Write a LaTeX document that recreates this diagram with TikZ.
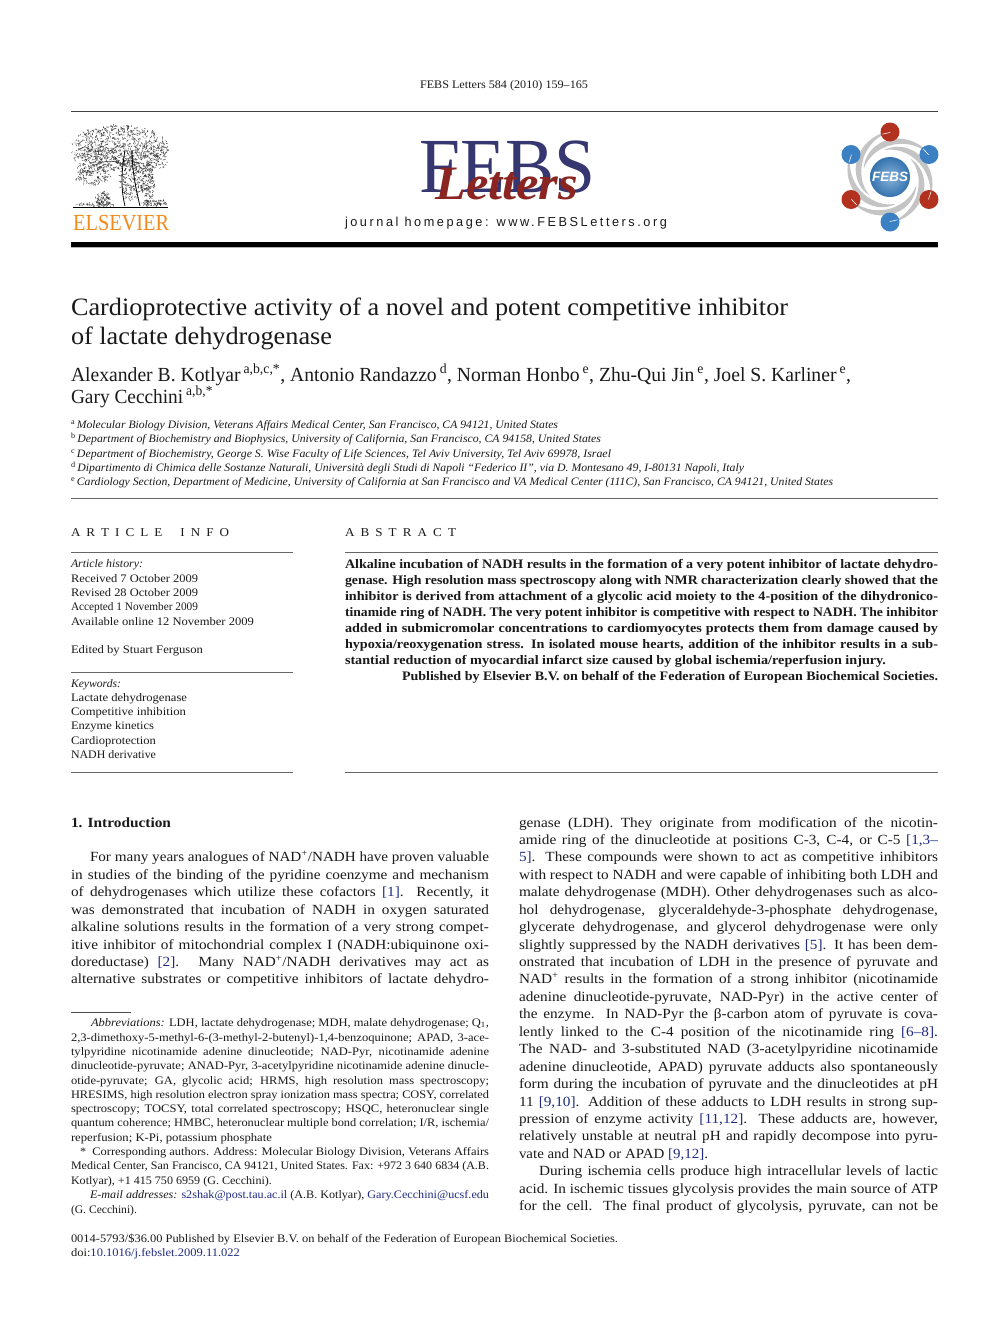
\documentclass[tikz,border=0pt]{standalone}
\usepackage{fontspec}
\usepackage{graphicx}
\setmainfont[FakeStretch=1.09]{Liberation Serif}
\newfontfamily\plainserif{Liberation Serif}
\newfontfamily\sansls[LetterSpace=20]{Liberation Sans}
\newfontfamily\sansb{Liberation Sans}
\definecolor{txtc}{HTML}{1A1A1A}
\definecolor{linkc}{HTML}{1F2A80}
\definecolor{febsblue}{HTML}{363670}
\definecolor{febsred}{HTML}{8A2522}
\definecolor{elsorange}{HTML}{F28A1C}
\definecolor{ballred}{HTML}{B3321F}
\definecolor{ballblue}{HTML}{3A80C2}
\definecolor{swirl}{HTML}{C4C4C4}
\newsavebox\fb
\newcounter{tn}
\def\curfont{}
\newcommand{\lk}[1]{\textcolor{linkc}{#1}}
\newcommand{\sups}[1]{\textsuperscript{#1}}
% justified: stretch the spaces, or squeeze if too long
\newcommand{\fitj}[2]{\sbox\fb{\curfont #2}\ifdim\wd\fb>#1pt\relax\pgfmathsetmacro\rr{#1/\the\wd\fb}\scalebox{\rr}[1]{\usebox\fb}\else\makebox[#1pt][s]{\curfont #2}\fi}
% always scale horizontally
\newcommand{\fits}[2]{\sbox\fb{\curfont #2}\pgfmathsetmacro\rr{#1/\the\wd\fb}\scalebox{\rr}[1]{\usebox\fb}}
\tikzset{
  x=1pt,y=1pt,
  txt/.style={anchor=base west,inner sep=0pt,outer sep=0pt,text=txtc},
  rulethin/.style={draw=black!60,line width=0.9pt},
  rulehead/.style={draw=black!75,line width=1pt},
  swirlband/.style={fill=swirl,draw=none},
  tick/.style={draw=white!85!swirl,line width=0.6pt,line cap=round},
  engr/.style={draw=black!85,line width=0.35pt}
}
\newcommand{\tline}[4]{\stepcounter{tn}\node[txt] (t\thetn) at (#1,-#2) {\fitj{#3}{#4}};}
\newcommand{\sline}[4]{\stepcounter{tn}\node[txt] (t\thetn) at (#1,-#2) {\fits{#3}{#4}};}
\newcommand{\bodyl}[4]{\tline{#1}{\fpeval{827+17.44*#2}}{#3}{#4}}
\newcommand{\scrib}[5]{\foreach \i in {1,...,#5}{%
  \pgfmathsetmacro\ta{360*rnd}\pgfmathsetmacro\ra{sqrt(rnd)}%
  \pgfmathsetmacro\px{#1+#3*\ra*cos(\ta)}\pgfmathsetmacro\py{-(#2)+#4*\ra*sin(\ta)}%
  \pgfmathsetmacro\da{360*rnd}%
  \draw[engr] (\px,\py) -- ++(\da:1.8);}}
\begin{document}
\begin{tikzpicture}
\useasboundingbox (0,0) rectangle (992,-1323);
\fill[white] (0,0) rectangle (992,-1323);
% header
\def\curfont{\fontsize{11.5}{13}\selectfont}
\sline{420}{88}{168}{FEBS Letters 584 (2010) 159--165}
\draw[rulehead] (71,-111.5) -- (938,-111.5);
\fill[black] (71,-242) rectangle (938,-247);
\draw[draw=black!30,line width=0.6pt] (71,-247.6) -- (938,-247.6);
% Elsevier tree
\pgfmathsetseed{11}
\scrib{120}{148}{48}{23}{800}
\scrib{95}{160}{22}{14}{150}
\scrib{145}{160}{22}{14}{120}
\scrib{93}{176}{17}{9}{110}
\scrib{131}{178}{11}{24}{190}
\scrib{148}{183}{7}{21}{150}
\scrib{103}{199}{8}{7}{90}
\scrib{155}{203}{13}{3.5}{70}
\scrib{95}{205}{21}{1.5}{40}
\draw[black,line width=0.8pt] (125,-150) .. controls (122,-170) and (120,-185) .. (125,-206);
\draw[black,line width=0.8pt] (132,-150) .. controls (132,-170) and (136,-190) .. (140,-206);
\draw[black!80,line width=0.6pt] (125,-165) .. controls (115,-160) and (105,-160) .. (95,-165);
\draw[black,line width=1pt] (73,-207.5) -- (168,-207.5);
\def\curfont{\fontsize{23}{25}\plainserif\selectfont}
\stepcounter{tn}\node[anchor=base west,inner sep=0pt,text=elsorange] (els) at (73,-230) {\fits{96}{ELSEVIER}};
% FEBS Letters logo
\def\curfont{\fontsize{78}{80}\plainserif\selectfont}
\node[anchor=base west,inner sep=0pt,text=febsblue] (febs) at (419,-192) {\fits{176}{FEBS}};
\def\curfont{\fontsize{48}{50}\plainserif\bfseries\itshape\selectfont}
\node[anchor=base west,inner sep=0pt,text=febsred] (lett) at (435,-199) {\fits{143}{Letters}};
\def\curfont{\fontsize{13}{15}\sansls\selectfont}
\sline{345}{226}{322}{journal homepage: www.FEBSLetters.org}
% FEBS ring logo
\begin{scope}[shift={(890,-177)}]
\foreach \a in {90,30,-30,-90,-150,150}{
  \fill[swirlband] plot[domain=0:130,samples=26] ({\a+\x}:{46-0.14*\x})
     -- plot[domain=130:0,samples=26] ({\a+\x}:{45.5-0.14*\x-5.5*sin(1.385*\x)});
}
\shade[inner color=ballblue!60!white,outer color=ballblue!90!black] (0,0) circle (20);
\foreach \a/\c in {90/ballred,30/ballblue,-30/ballred,-90/ballblue,-150/ballred,150/ballblue}{
  \fill[\c] (\a:45) circle (9.5);
  \draw[tick] (\a:44.5) -- ({\a+10}:43.5);
}
\node[inner sep=0pt,text=white] (febsc) at (0,0) {\fontsize{13.5}{15}\sansb\bfseries\itshape FEBS};
\end{scope}
% title
\def\curfont{\fontsize{25}{27}\selectfont}
\sline{71}{315}{717}{Cardioprotective activity of a novel and potent competitive inhibitor}
\sline{71}{344}{261}{of lactate dehydrogenase}
% authors
\def\curfont{\fontsize{20}{22}\selectfont}
\sline{71}{381}{780}{Alexander B. Kotlyar\,\sups{a,b,c,*}, Antonio Randazzo\,\sups{d}, Norman Honbo\,\sups{e}, Zhu-Qui Jin\,\sups{e}, Joel S. Karliner\,\sups{e},}
\sline{71}{403}{142}{Gary Cecchini\,\sups{a,b,*}}
% affiliations
\def\curfont{\fontsize{11.3}{13}\selectfont}
\sline{71}{428}{487}{\sups{a}\,\itshape Molecular Biology Division, Veterans Affairs Medical Center, San Francisco, CA 94121, United States}
\sline{71}{442}{530}{\sups{b}\,\itshape Department of Biochemistry and Biophysics, University of California, San Francisco, CA 94158, United States}
\sline{71}{457}{540}{\sups{c}\,\itshape Department of Biochemistry, George S. Wise Faculty of Life Sciences, Tel Aviv University, Tel Aviv 69978, Israel}
\sline{71}{471}{673}{\sups{d}\,\itshape Dipartimento di Chimica delle Sostanze Naturali, Università degli Studi di Napoli ``Federico II'', via D. Montesano 49, I-80131 Napoli, Italy}
\sline{71}{485}{762}{\sups{e}\,\itshape Cardiology Section, Department of Medicine, University of California at San Francisco and VA Medical Center (111C), San Francisco, CA 94121, United States}
\draw[rulethin] (71,-498.5) -- (938,-498.5);
% article info
\def\curfont{\fontsize{12}{14}\selectfont}
\tline{71}{536}{158}{A R T I C L E \ \ I N F O}
\tline{345}{536}{111}{A B S T R A C T}
\draw[rulethin] (71,-552.5) -- (293,-552.5);
\draw[rulethin] (345,-552.5) -- (938,-552.5);
\def\curfont{\fontsize{11.5}{13}\selectfont}
\sline{71}{567}{72}{\itshape Article history:}
\sline{71}{582}{127}{Received 7 October 2009}
\sline{71}{596}{127}{Revised 28 October 2009}
\sline{71}{610}{127}{Accepted 1 November 2009}
\sline{71}{625}{183}{Available online 12 November 2009}
\sline{71}{653}{132}{Edited by Stuart Ferguson}
\draw[rulethin] (71,-672.5) -- (293,-672.5);
\sline{71}{687}{50}{\itshape Keywords:}
\sline{71}{701}{116}{Lactate dehydrogenase}
\sline{71}{715}{115}{Competitive inhibition}
\sline{71}{729}{83}{Enzyme kinetics}
\sline{71}{744}{85}{Cardioprotection}
\sline{71}{758}{85}{NADH derivative}
\draw[rulethin] (71,-772.5) -- (293,-772.5);
\draw[rulethin] (345,-772.5) -- (938,-772.5);
% abstract
\def\curfont{\fontsize{13}{14}\bfseries\selectfont}
\tline{345}{568.5}{593}{Alkaline incubation of NADH results in the formation of a very potent inhibitor of lactate dehydro-}
\tline{345}{584.5}{593}{genase. High resolution mass spectroscopy along with NMR characterization clearly showed that the}
\tline{345}{600.5}{593}{inhibitor is derived from attachment of a glycolic acid moiety to the 4-position of the dihydronico-}
\tline{345}{616.5}{593}{tinamide ring of NADH. The very potent inhibitor is competitive with respect to NADH. The inhibitor}
\tline{345}{632.5}{593}{added in submicromolar concentrations to cardiomyocytes protects them from damage caused by}
\tline{345}{648.5}{593}{hypoxia/reoxygenation stress. In isolated mouse hearts, addition of the inhibitor results in a sub-}
\tline{345}{664.5}{541}{stantial reduction of myocardial infarct size caused by global ischemia/reperfusion injury.}
\tline{402}{680.5}{536}{Published by Elsevier B.V. on behalf of the Federation of European Biochemical Societies.}
% intro
\def\curfont{\fontsize{14}{16}\bfseries\selectfont}
\sline{71}{827}{100}{1. Introduction}
\def\curfont{\fontsize{14}{16}\selectfont}
\bodyl{90}{2}{399}{For many years analogues of NAD\sups{+}/NADH have proven valuable}
\bodyl{71}{3}{418}{in studies of the binding of the pyridine coenzyme and mechanism}
\bodyl{71}{4}{418}{of dehydrogenases which utilize these cofactors \lk{[1]}. Recently, it}
\bodyl{71}{5}{418}{was demonstrated that incubation of NADH in oxygen saturated}
\bodyl{71}{6}{418}{alkaline solutions results in the formation of a very strong compet-}
\bodyl{71}{7}{418}{itive inhibitor of mitochondrial complex I (NADH:ubiquinone oxi-}
\bodyl{71}{8}{418}{doreductase) \lk{[2]}. Many NAD\sups{+}/NADH derivatives may act as}
\bodyl{71}{9}{418}{alternative substrates or competitive inhibitors of lactate dehydro-}
% right column
\bodyl{519}{0}{419}{genase (LDH). They originate from modification of the nicotin-}
\bodyl{519}{1}{419}{amide ring of the dinucleotide at positions C-3, C-4, or C-5 \lk{[1,3--}}
\bodyl{519}{2}{419}{\lk{5]}. These compounds were shown to act as competitive inhibitors}
\bodyl{519}{3}{419}{with respect to NADH and were capable of inhibiting both LDH and}
\bodyl{519}{4}{419}{malate dehydrogenase (MDH). Other dehydrogenases such as alco-}
\bodyl{519}{5}{419}{hol dehydrogenase, glyceraldehyde-3-phosphate dehydrogenase,}
\bodyl{519}{6}{419}{glycerate dehydrogenase, and glycerol dehydrogenase were only}
\bodyl{519}{7}{419}{slightly suppressed by the NADH derivatives \lk{[5]}. It has been dem-}
\bodyl{519}{8}{419}{onstrated that incubation of LDH in the presence of pyruvate and}
\bodyl{519}{9}{419}{NAD\sups{+} results in the formation of a strong inhibitor (nicotinamide}
\bodyl{519}{10}{419}{adenine dinucleotide-pyruvate, NAD-Pyr) in the active center of}
\bodyl{519}{11}{419}{the enzyme. In NAD-Pyr the β-carbon atom of pyruvate is cova-}
\bodyl{519}{12}{419}{lently linked to the C-4 position of the nicotinamide ring \lk{[6--8]}.}
\bodyl{519}{13}{419}{The NAD- and 3-substituted NAD (3-acetylpyridine nicotinamide}
\bodyl{519}{14}{419}{adenine dinucleotide, APAD) pyruvate adducts also spontaneously}
\bodyl{519}{15}{419}{form during the incubation of pyruvate and the dinucleotides at pH}
\bodyl{519}{16}{419}{11 \lk{[9,10]}. Addition of these adducts to LDH results in strong sup-}
\bodyl{519}{17}{419}{pression of enzyme activity \lk{[11,12]}. These adducts are, however,}
\bodyl{519}{18}{419}{relatively unstable at neutral pH and rapidly decompose into pyru-}
\bodyl{519}{19}{189}{vate and NAD or APAD \lk{[9,12]}.}
\bodyl{539}{20}{399}{During ischemia cells produce high intracellular levels of lactic}
\bodyl{519}{21}{419}{acid. In ischemic tissues glycolysis provides the main source of ATP}
\bodyl{519}{22}{419}{for the cell. The final product of glycolysis, pyruvate, can not be}
% footnotes
\draw[draw=black!70,line width=0.6pt] (71,-1012.5) -- (131,-1012.5);
\def\curfont{\fontsize{11.5}{13}\selectfont}
\tline{91}{1026}{398}{\textit{Abbreviations:} LDH, lactate dehydrogenase; MDH, malate dehydrogenase; Q\textsubscript{1},}
\tline{71}{1041}{418}{2,3-dimethoxy-5-methyl-6-(3-methyl-2-butenyl)-1,4-benzoquinone; APAD, 3-ace-}
\tline{71}{1055}{418}{tylpyridine nicotinamide adenine dinucleotide; NAD-Pyr, nicotinamide adenine}
\tline{71}{1069}{418}{dinucleotide-pyruvate; ANAD-Pyr, 3-acetylpyridine nicotinamide adenine dinucle-}
\tline{71}{1084}{418}{otide-pyruvate; GA, glycolic acid; HRMS, high resolution mass spectroscopy;}
\tline{71}{1098}{418}{HRESIMS, high resolution electron spray ionization mass spectra; COSY, correlated}
\tline{71}{1112}{418}{spectroscopy; TOCSY, total correlated spectroscopy; HSQC, heteronuclear single}
\tline{71}{1126}{418}{quantum coherence; HMBC, heteronuclear multiple bond correlation; I/R, ischemia/}
\sline{71}{1141}{201}{reperfusion; K-Pi, potassium phosphate}
\tline{80}{1155}{409}{*\ \ Corresponding authors. Address: Molecular Biology Division, Veterans Affairs}
\tline{71}{1169}{418}{Medical Center, San Francisco, CA 94121, United States. Fax: +972 3 640 6834 (A.B.}
\sline{71}{1184}{201}{Kotlyar), +1 415 750 6959 (G. Cecchini).}
\tline{90}{1198}{399}{\textit{E-mail addresses:} \lk{s2shak@post.tau.ac.il} (A.B. Kotlyar), \lk{Gary.Cecchini@ucsf.edu}}
\sline{71}{1213}{66}{(G. Cecchini).}
\sline{71}{1242}{547}{0014-5793/\$36.00 Published by Elsevier B.V. on behalf of the Federation of European Biochemical Societies.}
\sline{71}{1256}{169}{doi:\lk{10.1016/j.febslet.2009.11.022}}
\end{tikzpicture}
\end{document}
